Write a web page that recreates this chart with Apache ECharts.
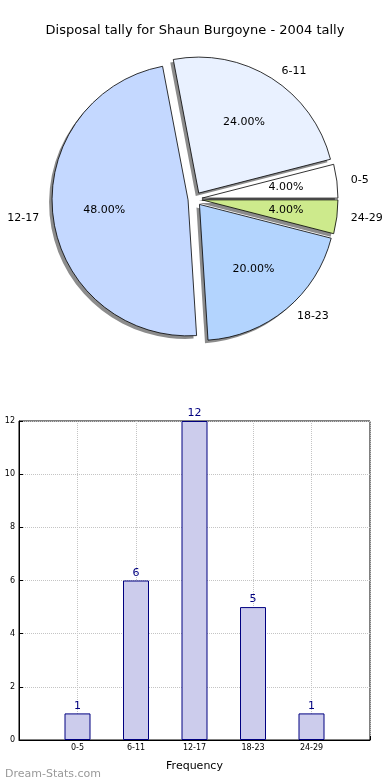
<!DOCTYPE html>
<html>
<head>
<meta charset="utf-8">
<script src="https://cdn.jsdelivr.net/npm/echarts@6/dist/echarts.min.js"></script>
<style>
html,body{margin:0;padding:0;background:#fff;}
#chart{width:390px;height:780px;}
</style>
</head>
<body>
<div id="chart"></div>
<script>
const chartTitle = 'Disposal tally for Shaun Burgoyne - 2004 tally';
const categories = ['0-5', '6-11', '12-17', '18-23', '24-29'];
const counts = [1, 6, 12, 5, 1];
const sliceColors = ['#ffffff', '#e9f1ff', '#c4d8ff', '#b3d4fe', '#cdea8c'];
const yTicks = [0, 2, 4, 6, 8, 10, 12];
const xAxisName = 'Frequency';
const yAxisName = 'Stat Interval';
const watermark = 'Dream-Stats.com';

const FONT = 'DejaVu Sans';
const total = counts.reduce((a, b) => a + b, 0);
const pieR = 136;
const offset = 7;
const pieCenter = [195, 199];

function sliceData(withColor) {
  return categories.map((c, i) => {
    const d = { name: c, value: counts[i], selected: true };
    if (withColor) d.itemStyle = { color: sliceColors[i] };
    return d;
  });
}

const pieBase = {
  type: 'pie',
  center: pieCenter,
  startAngle: 0,
  clockwise: false,
  selectedMode: 'multiple',
  selectedOffset: offset,
  avoidLabelOverlap: false,
  silent: true,
  emphasis: { disabled: true },
  labelLine: { show: false }
};

const barCats = [''].concat(categories, ['']);
const barVals = [null].concat(counts, [null]);

const chart = echarts.init(document.getElementById('chart'), null, { renderer: 'canvas' });
chart.setOption({
  animation: false,
  backgroundColor: '#ffffff',
  title: [
    { text: chartTitle, left: 'center', top: 19,
      textStyle: { fontFamily: FONT, fontSize: 13, fontWeight: 'normal', color: '#000' } },
    { text: watermark, left: 0, top: 764,
      textStyle: { fontFamily: FONT, fontSize: 11, fontWeight: 'normal', color: '#999999' } }
  ],
  series: [
    // filled slices with shadow
    Object.assign({}, pieBase, {
      radius: [0, pieR],
      itemStyle: {
        borderWidth: 0,
        shadowColor: 'rgba(0,0,0,0.45)', shadowBlur: 0, shadowOffsetX: -3, shadowOffsetY: 3
      },
      label: {
        show: true, position: 'outside', fontFamily: FONT, fontSize: 11, color: '#000',
        distanceToLabelLine: 5, formatter: '{b}'
      },
      labelLine: { show: false, length: 9, length2: 0 },
      data: sliceData(true)
    }),
    // slice outlines
    Object.assign({}, pieBase, {
      radius: [0, pieR],
      z: 3,
      itemStyle: { color: 'rgba(0,0,0,0)', borderColor: '#000', borderWidth: 0.8 },
      label: { show: false },
      data: sliceData(false)
    }),
    // percentage labels at 0.6 r
    Object.assign({}, pieBase, {
      radius: [0, pieR * 1.2],
      z: 4,
      itemStyle: { color: 'rgba(0,0,0,0)', borderWidth: 0 },
      label: {
        show: true, position: 'inside', fontFamily: FONT, fontSize: 11, color: '#000',
        formatter: p => (p.value / total * 100).toFixed(2) + '%'
      },
      data: sliceData(false)
    }),
    {
      type: 'bar',
      xAxisIndex: 0, yAxisIndex: 0,
      data: barVals,
      barWidth: 26,
      itemStyle: { color: '#ccccec', borderColor: '#000080', borderWidth: 1 },
      label: { show: true, position: 'top', distance: 2, color: '#000080', fontFamily: FONT, fontSize: 11 },
      emphasis: { disabled: true }
    }
  ],
  grid: {
    left: 19, right: 20, top: 421, bottom: 40,
    outerBoundsMode: 'none',
    containLabel: false,
    show: true, borderColor: '#000', borderWidth: 1, backgroundColor: 'transparent'
  },
  xAxis: {
    type: 'category',
    data: barCats,
    boundaryGap: false,
    name: xAxisName,
    nameLocation: 'middle',
    nameGap: 21,
    nameTextStyle: { fontFamily: FONT, fontSize: 11, color: '#000' },
    axisLine: { show: true, lineStyle: { color: '#000' } },
    axisTick: { show: true, inside: true, length: 4, lineStyle: { color: '#000' } },
    axisLabel: { fontFamily: FONT, fontSize: 8, color: '#000', margin: 4 },
    splitLine: { show: true, lineStyle: { color: '#c4c4c4', type: 'dotted' } }
  },
  yAxis: {
    type: 'value',
    min: 0, max: yTicks[yTicks.length - 1], interval: yTicks[1] - yTicks[0],
    name: yAxisName,
    nameLocation: 'middle',
    nameGap: 16,
    nameMoveOverlap: false,
    nameTextStyle: { fontFamily: FONT, fontSize: 11, color: '#000' },
    axisLine: { show: true, lineStyle: { color: '#000' } },
    axisTick: { show: true, inside: true, length: 4, lineStyle: { color: '#000' } },
    axisLabel: { fontFamily: FONT, fontSize: 8, color: '#000', margin: 4 },
    splitLine: { show: true, lineStyle: { color: '#c4c4c4', type: 'dotted' } }
  }
});
</script>
</body>
</html>
